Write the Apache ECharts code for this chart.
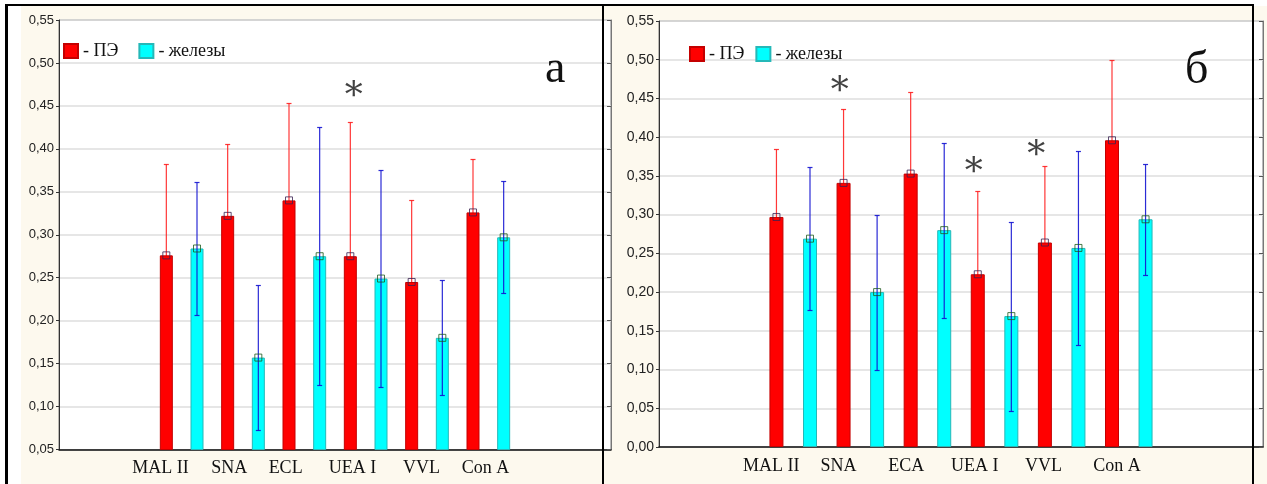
<!DOCTYPE html>
<html><head><meta charset="utf-8">
<script src="https://cdn.jsdelivr.net/npm/echarts@6/dist/echarts.min.js"></script>
<style>
html,body{margin:0;padding:0;background:#fff;}
#wrap{position:relative;width:1267px;height:484px;overflow:hidden;background:#fff;}
#cream{position:absolute;left:21px;top:6px;right:0;bottom:0;background:#FDF9EE;}
#chart{position:absolute;left:0;top:0;width:1267px;height:484px;}
.bl{position:absolute;background:#000;pointer-events:none;z-index:5;}
</style></head><body>
<div id="wrap"><div id="cream"></div><div id="chart"></div>
<div class="bl" style="left:5px;top:4px;width:3px;height:480px"></div>
<div class="bl" style="left:5px;top:4px;width:1249px;height:2px"></div>
<div class="bl" style="left:602px;top:4px;width:2px;height:480px"></div>
<div class="bl" style="left:1252px;top:4px;width:2px;height:480px"></div>
</div>
<script>
// ---------- DATA ----------
const seriesNames = ['ПЭ', 'железы'];
// panel а
const catsA = ['MAL II', 'SNA', 'ECL', 'UEA I', 'VVL', 'Con A'];
const peA = [0.276, 0.322, 0.340, 0.275, 0.245, 0.326];
const peErrA = [0.106, 0.084, 0.113, 0.156, 0.096, 0.062];
const glA = [0.284, 0.157, 0.275, 0.249, 0.180, 0.297];
const glErrA = [0.077, 0.084, 0.150, 0.126, 0.067, 0.065];
const starsA = [[3, 0.469]];           // [category index (ПЭ bar), value]
const yTicksA = {min: 0.05, max: 0.55, step: 0.05};
// panel б
const catsB = ['MAL II', 'SNA', 'ECA', 'UEA I', 'VVL', 'Con A'];
const peB = [0.297, 0.341, 0.353, 0.223, 0.264, 0.396];
const peErrB = [0.088, 0.096, 0.105, 0.108, 0.099, 0.104];
const glB = [0.269, 0.200, 0.280, 0.169, 0.257, 0.294];
const glErrB = [0.092, 0.100, 0.113, 0.122, 0.125, 0.072];
const starsB = [[1, 0.468], [3, 0.363], [4, 0.385]];
const yTicksB = {min: 0.00, max: 0.55, step: 0.05};

// ---------- LAYOUT ----------
const L = [
  {grid: {left: 59, top: 20, width: 552, height: 429.5}, barW: 13, labShift: [-0.19, 0.05, -0.11, 0.07, 0.32, 0.41],
   starShift: [0.11], yFont: 13, legend: {left: 63, top: 42, gap: 20}, letter: {text: 'а', left: 545, top: 47}},
  {grid: {left: 659, top: 21, width: 604, height: 426}, barW: 14, labShift: [-0.155, -0.15, -0.13, -0.09, -0.04, 0.15],
   starShift: [-0.11, -0.12, -0.26], yFont: 14, legend: {left: 689, top: 45, gap: 11}, letter: {text: 'б', left: 1185, top: 48}}
];
const X_MIN = -2.5, X_MAX = 15.5;
const RED = '#FF0000', CYAN = '#00FFFF';

function fmtY(v) { return v.toFixed(2).replace('.', ','); }

function errRender(color, capW) {
  return function (params, api) {
    const x = api.value(0), lo = api.value(1), hi = api.value(2);
    const a = api.coord([x, hi]), b = api.coord([x, lo]);
    const px = a[0], ya = Math.round(a[1]) + 0.5, yb = Math.round(b[1]) + 0.5;
    const st = {stroke: color, lineWidth: 1.2};
    return {type: 'group', children: [
      {type: 'line', shape: {x1: px, y1: ya, x2: px, y2: yb}, style: st},
      {type: 'line', shape: {x1: px - capW, y1: ya, x2: px + capW, y2: ya}, style: st},
      {type: 'line', shape: {x1: px - capW, y1: yb, x2: px + capW, y2: yb}, style: st}
    ]};
  };
}

const panels = [
  {cats: catsA, pe: peA, peErr: peErrA, gl: glA, glErr: glErrA, stars: starsA, yt: yTicksA},
  {cats: catsB, pe: peB, peErr: peErrB, gl: glB, glErr: glErrB, stars: starsB, yt: yTicksB}
];

const option = {
  animation: false,
  grid: [], xAxis: [], yAxis: [], series: [], legend: [], title: []
};

panels.forEach((P, k) => {
  const lay = L[k];
  option.grid.push(Object.assign({show: true, backgroundColor: '#fff', borderColor: '#777', borderWidth: 1}, lay.grid));
  const labPos = P.cats.map((c, i) => 2 * i + 1 + lay.labShift[i]);
  option.xAxis.push({
    type: 'value', gridIndex: k, min: X_MIN, max: X_MAX, position: 'bottom',
    axisLine: {show: true, onZero: false, lineStyle: {color: '#111', width: 1.5}},
    axisTick: {show: false}, splitLine: {show: false},
    axisLabel: {
      customValues: labPos, margin: 10,
      fontFamily: 'Liberation Serif', fontSize: 18, color: '#111',
      formatter: (v) => { const i = labPos.findIndex(p => Math.abs(p - v) < 1e-6); return i >= 0 ? P.cats[i] : ''; }
    }
  });
  option.yAxis.push({
    type: 'value', gridIndex: k, position: 'left', min: P.yt.min, max: P.yt.max, interval: P.yt.step,
    axisLine: {show: true, onZero: false, lineStyle: {color: '#333', width: 1}},
    axisTick: {show: true, length: 3, lineStyle: {color: '#333'}},
    axisLabel: {formatter: fmtY, fontFamily: 'Liberation Sans', fontSize: lay.yFont, color: '#222', margin: 5},
    splitLine: {show: true, lineStyle: {color: '#dedede', width: 1.5}}
  });
  option.yAxis.push({
    type: 'value', gridIndex: k, position: 'right', min: P.yt.min, max: P.yt.max, interval: P.yt.step,
    axisLine: {show: true, onZero: false, lineStyle: {color: '#777', width: 1}},
    axisTick: {show: true, inside: true, length: 4, lineStyle: {color: '#555'}},
    axisLabel: {show: false}, splitLine: {show: false}
  });
  const yi = 2 * k;
  // red whiskers (behind bars)
  option.series.push({
    type: 'custom', name: 'errPE' + k, xAxisIndex: k, yAxisIndex: yi, z: 1,
    renderItem: errRender('rgba(255,20,20,0.85)', 2.5), encode: {x: 0, y: [1, 2]},
    data: P.pe.map((v, i) => [2 * i + 1, v - P.peErr[i], v + P.peErr[i]])
  });
  option.series.push({
    type: 'bar', name: seriesNames[0], xAxisIndex: k, yAxisIndex: yi, z: 2,
    barWidth: lay.barW, barGap: '-100%',
    itemStyle: {color: RED, borderColor: '#C40000', borderWidth: 1},
    data: P.pe.map((v, i) => [2 * i + 1, v])
  });
  option.series.push({
    type: 'bar', name: seriesNames[1], xAxisIndex: k, yAxisIndex: yi, z: 2,
    barWidth: lay.barW, barGap: '-100%',
    itemStyle: {color: CYAN, borderColor: '#25B8B8', borderWidth: 1},
    data: P.gl.map((v, i) => [2 * i + 2, v])
  });
  option.series.push({
    type: 'custom', name: 'errGL' + k, xAxisIndex: k, yAxisIndex: yi, z: 3,
    renderItem: errRender('rgba(20,20,210,0.9)', 2.5), encode: {x: 0, y: [1, 2]},
    data: P.gl.map((v, i) => [2 * i + 2, v - P.glErr[i], v + P.glErr[i]])
  });
  option.series.push({
    type: 'scatter', name: 'mPE' + k, xAxisIndex: k, yAxisIndex: yi, z: 4,
    symbol: 'rect', symbolSize: 7,
    itemStyle: {color: 'rgba(0,0,0,0)', borderColor: '#3a2050', borderWidth: 1},
    data: P.pe.map((v, i) => [2 * i + 1, v])
  });
  option.series.push({
    type: 'scatter', name: 'mGL' + k, xAxisIndex: k, yAxisIndex: yi, z: 4,
    symbol: 'rect', symbolSize: 7,
    itemStyle: {color: 'rgba(0,0,0,0)', borderColor: '#1d5a1d', borderWidth: 1},
    data: P.gl.map((v, i) => [2 * i + 2, v])
  });
  option.series.push({
    type: 'scatter', name: 'stars' + k, xAxisIndex: k, yAxisIndex: yi, z: 5,
    symbol: 'circle', symbolSize: 1, itemStyle: {color: 'rgba(0,0,0,0)'},
    label: {show: true, position: 'inside', formatter: '*', offset: [0, 8],
      fontFamily: 'DejaVu Serif', fontSize: 36, color: '#111'},
    data: P.stars.map((s, j) => [2 * s[0] + 1 + lay.starShift[j], s[1]])
  });
  option.legend.push({
    data: seriesNames.map(n => ({name: n, icon: 'rect'})), left: lay.legend.left, top: lay.legend.top, orient: 'horizontal',
    itemWidth: 14, itemHeight: 14, itemGap: lay.legend.gap, selectedMode: false, padding: 0,
    formatter: (n) => '- ' + n,
    textStyle: {fontFamily: 'Liberation Serif', fontSize: 18, color: '#111'}
  });
  option.title.push({
    text: lay.letter.text, left: lay.letter.left, top: lay.letter.top, padding: 0,
    textStyle: {fontFamily: 'Liberation Serif', fontSize: 46, fontWeight: 'normal', color: '#111'}
  });
});

const chart = echarts.init(document.getElementById('chart'), null, {renderer: 'canvas'});
chart.setOption(option);
</script>
</body></html>
